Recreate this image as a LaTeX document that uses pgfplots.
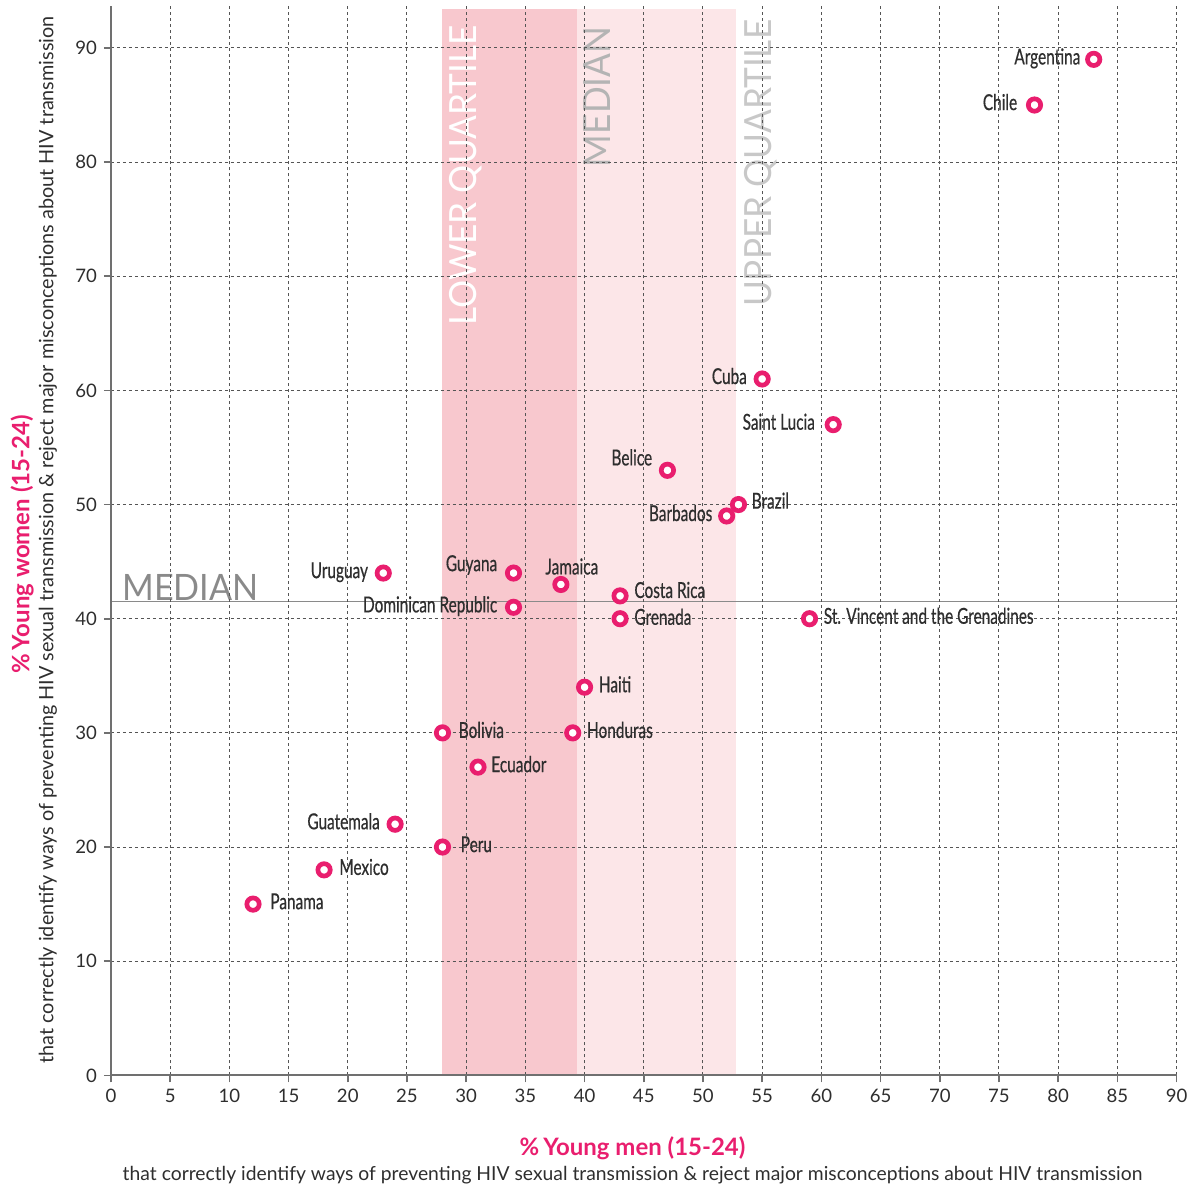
\documentclass[border=0pt]{standalone}
\usepackage{fontspec}
\setmainfont{Lato}
\newfontfamily\cond[FakeStretch=0.7, FakeBold=0.5]{Lato}
\newfontfamily\bandfont[FakeStretch=0.94]{Lato}
\usepackage{pgfplots}
\pgfplotsset{compat=1.18}
\usepackage{pgfplotstable}
\definecolor{mag}{HTML}{E91E6E}
\definecolor{bandA}{HTML}{F8C8CE}
\definecolor{bandB}{HTML}{FCE6E8}
\definecolor{gridc}{HTML}{555555}
\definecolor{axisc}{HTML}{707070}
\definecolor{txt}{HTML}{2E2E2E}
\definecolor{medc}{HTML}{8A8A8A}
\definecolor{lmed}{HTML}{B4B4B4}
\definecolor{upq}{HTML}{C8C8C8}

\pgfplotstableread[col sep=comma]{
x,y,dx,dy,name
83,89,5.5,0,Argentina
78,85,7.5,0,Chile
55,61,6.5,0,Cuba
61,57,8,0,Saint Lucia
47,53,6.5,5,Belice
52,49,6,0,Barbados
23,44,6.5,0,Uruguay
34,44,7,3.5,Guyana
34,41,7,0,Dominican Republic
24,22,6.5,0,Guatemala
}\leftT

\pgfplotstableread[col sep=comma]{
x,y,dx,dy,name
53,50,5.5,0.5,Brazil
43,42,6,1.5,Costa Rica
43,40,6,-0.5,Grenada
59,40,6,0,St. Vincent and the Grenadines
40,34,6,0,Haiti
28,30,7,0,Bolivia
39,30,6,0,Honduras
31,27,5.5,0,Ecuador
28,20,8,0,Peru
18,18,6.5,0,Mexico
12,15,7.5,0,Panama
}\rightT

\pgfplotstableread[col sep=comma]{
x,y,name
38,43,Jamaica
}\topT

\begin{document}
\begin{tikzpicture}
\begin{axis}[
  scale only axis, width=533.5pt, height=535.5pt,
  xmin=0, xmax=90, ymin=0, ymax=93.7,
  separate axis lines,
  axis x line*=bottom, axis y line*=left,
  axis line style={draw=axisc, line width=1pt, -},
  xtick={0,5,...,90}, ytick={0,10,...,90},
  grid=major,
  major grid style={gridc, line width=0.5pt, dash pattern=on 1.5pt off 1.5pt},
  tick align=outside, major tick length=3.5pt,
  tick style={axisc, line width=0.8pt},
  ticklabel style={font=\fontsize{9.3}{11}\selectfont, text=txt},
  /pgf/number format/assume math mode=true,
  axis on top,
  clip=false,
  mystyle/.style={only marks, mark=*, mark size=3.1pt,
     mark options={draw=mag, fill=white, line width=2.35pt},
     point meta=explicit symbolic, nodes near coords,
     every node near coord/.append style={font=\cond\fontsize{11}{12}\selectfont, text=txt, inner sep=0pt}},
]
% background rectangle for picture size
\path (axis cs:-9.37,-9.89) rectangle (axis cs:91.4,94.2);

% bands
\addplot[fill=bandA, draw=none] coordinates {(28,0) (39.4,0) (39.4,93.4) (28,93.4)} -- cycle;
\addplot[fill=bandB, draw=none] coordinates {(39.4,0) (52.8,0) (52.8,93.4) (39.4,93.4)} -- cycle;
% median line
\addplot[medc, line width=0.9pt] coordinates {(0,41.5) (90,41.5)};

% band labels
\node[rotate=90, anchor=base east, inner sep=0pt, text=white, font=\bandfont\fontsize{18.75}{20}\selectfont] at (axis cs:30.9,92.0) {LOWER QUARTILE};
\node[rotate=90, anchor=base east, inner sep=0pt, text=lmed, font=\bandfont\fontsize{18.75}{20}\selectfont] at (axis cs:42.2,91.9) {MEDIAN};
\node[rotate=90, anchor=base east, inner sep=0pt, text=upq, font=\bandfont\fontsize{18.75}{20}\selectfont] at (axis cs:55.8,92.5) {UPPER QUARTILE};
\node[anchor=base west, inner sep=0pt, text=medc, font=\bandfont\fontsize{18.2}{20}\selectfont] at (axis cs:0.93,41.6) {MEDIAN};

% points
\addplot[mystyle,
  visualization depends on={\thisrow{dx}\as\dx},
  visualization depends on={\thisrow{dy}\as\dy},
  every node near coord/.append style={anchor=mid east, xshift=-\dx pt, yshift=\dy pt}]
  table[x=x, y=y, meta=name] {\leftT};
\addplot[mystyle,
  visualization depends on={\thisrow{dx}\as\dx},
  visualization depends on={\thisrow{dy}\as\dy},
  every node near coord/.append style={anchor=mid west, xshift=\dx pt, yshift=\dy pt}]
  table[x=x, y=y, meta=name] {\rightT};
\addplot[mystyle,
  every node near coord/.append style={anchor=center, xshift=5.5pt, yshift=9pt}]
  table[x=x, y=y, meta=name] {\topT};

% axis titles
\node[font=\bfseries\fontsize{12}{14}\selectfont, text=mag] at (axis cs:44.05,-6.39) {\%\,Young men (15-24)};
\node[font=\fontsize{9.66}{11}\selectfont, text=txt] at (axis cs:44.05,-8.75) {that correctly identify ways of preventing HIV sexual transmission \& reject major misconceptions about HIV transmission};
\node[rotate=90, font=\bfseries\fontsize{12}{14}\selectfont, text=mag] at (axis cs:-7.51,46.5) {\%\,Young women (15-24)};
\node[rotate=90, font=\fontsize{9.92}{11}\selectfont, text=txt] at (axis cs:-5.32,46.9) {that correctly identify ways of preventing HIV sexual transmission \& reject major misconceptions about HIV transmission};
\end{axis}
\end{tikzpicture}
\end{document}
